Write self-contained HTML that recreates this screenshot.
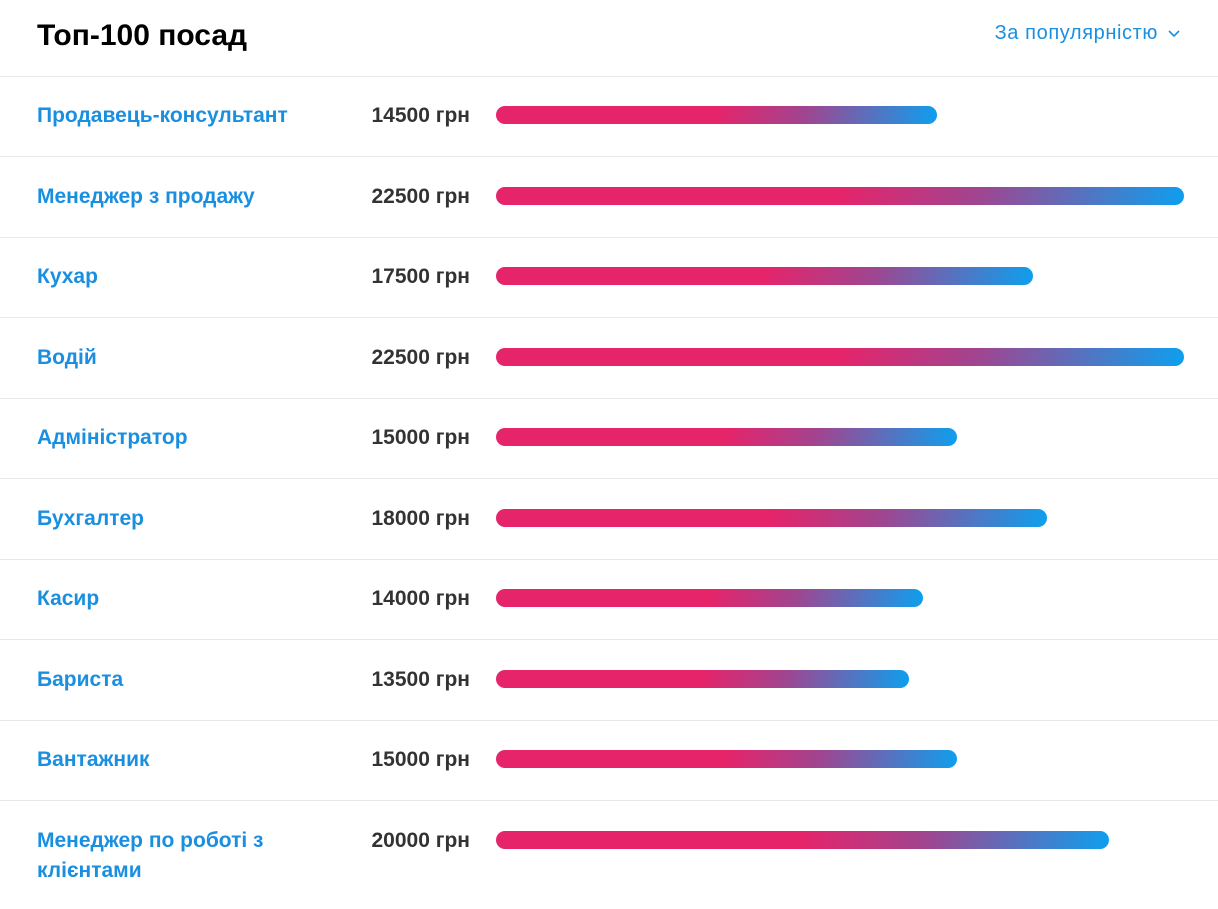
<!DOCTYPE html>
<html><head><meta charset="utf-8"><style>
body{margin:0;width:1218px;height:909px;background:#fff;font-family:"Liberation Sans",Arial,sans-serif;position:relative;overflow:hidden}
.t{position:absolute;left:37px;top:19px;font-size:30px;font-weight:bold;color:#000}
.dd{position:absolute;right:38px;top:22px;font-size:20px;letter-spacing:0.6px;color:#1a8fe0}
.dd svg{margin-left:10px;vertical-align:middle}
.hl{position:absolute;left:0;width:1218px;height:1px;background:#e8e8e8}
.n{position:absolute;left:37px;font-size:21px;font-weight:bold;color:#1a8fe0;line-height:30px}
.s{position:absolute;right:748px;font-size:21px;font-weight:bold;color:#333;line-height:30px;white-space:nowrap}
.b{position:absolute;left:496px;height:18px;border-radius:9px;background:linear-gradient(100deg,#e5246a 50%,#a04590 70%,#0d9fee 100%)}
</style></head><body>
<div class="t">Топ-100 посад</div>
<div class="dd">За популярністю<svg width="12" height="8"><path d="M1 1l5 5 5-5" stroke="#1a8fe0" stroke-width="1.6" fill="none"/></svg></div>
<div class="hl" style="top:76px"></div>
<div class="hl" style="top:156px"></div>
<div class="hl" style="top:237px"></div>
<div class="hl" style="top:317px"></div>
<div class="hl" style="top:398px"></div>
<div class="hl" style="top:478px"></div>
<div class="hl" style="top:559px"></div>
<div class="hl" style="top:639px"></div>
<div class="hl" style="top:720px"></div>
<div class="hl" style="top:800px"></div>

<div class="n" style="top:101px">Продавець-консультант</div><div class="s" style="top:101px">14500 грн</div><div class="b" style="top:106px;width:441px"></div>
<div class="n" style="top:182px">Менеджер з продажу</div><div class="s" style="top:182px">22500 грн</div><div class="b" style="top:187px;width:688px"></div>
<div class="n" style="top:262px">Кухар</div><div class="s" style="top:262px">17500 грн</div><div class="b" style="top:267px;width:537px"></div>
<div class="n" style="top:343px">Водій</div><div class="s" style="top:343px">22500 грн</div><div class="b" style="top:348px;width:688px"></div>
<div class="n" style="top:423px">Адміністратор</div><div class="s" style="top:423px">15000 грн</div><div class="b" style="top:428px;width:461px"></div>
<div class="n" style="top:504px">Бухгалтер</div><div class="s" style="top:504px">18000 грн</div><div class="b" style="top:509px;width:551px"></div>
<div class="n" style="top:584px">Касир</div><div class="s" style="top:584px">14000 грн</div><div class="b" style="top:589px;width:427px"></div>
<div class="n" style="top:665px">Бариста</div><div class="s" style="top:665px">13500 грн</div><div class="b" style="top:670px;width:413px"></div>
<div class="n" style="top:745px">Вантажник</div><div class="s" style="top:745px">15000 грн</div><div class="b" style="top:750px;width:461px"></div>
<div class="n" style="top:826px">Менеджер по роботі з<br>клієнтами</div><div class="s" style="top:826px">20000 грн</div><div class="b" style="top:831px;width:613px"></div>
</body></html>
